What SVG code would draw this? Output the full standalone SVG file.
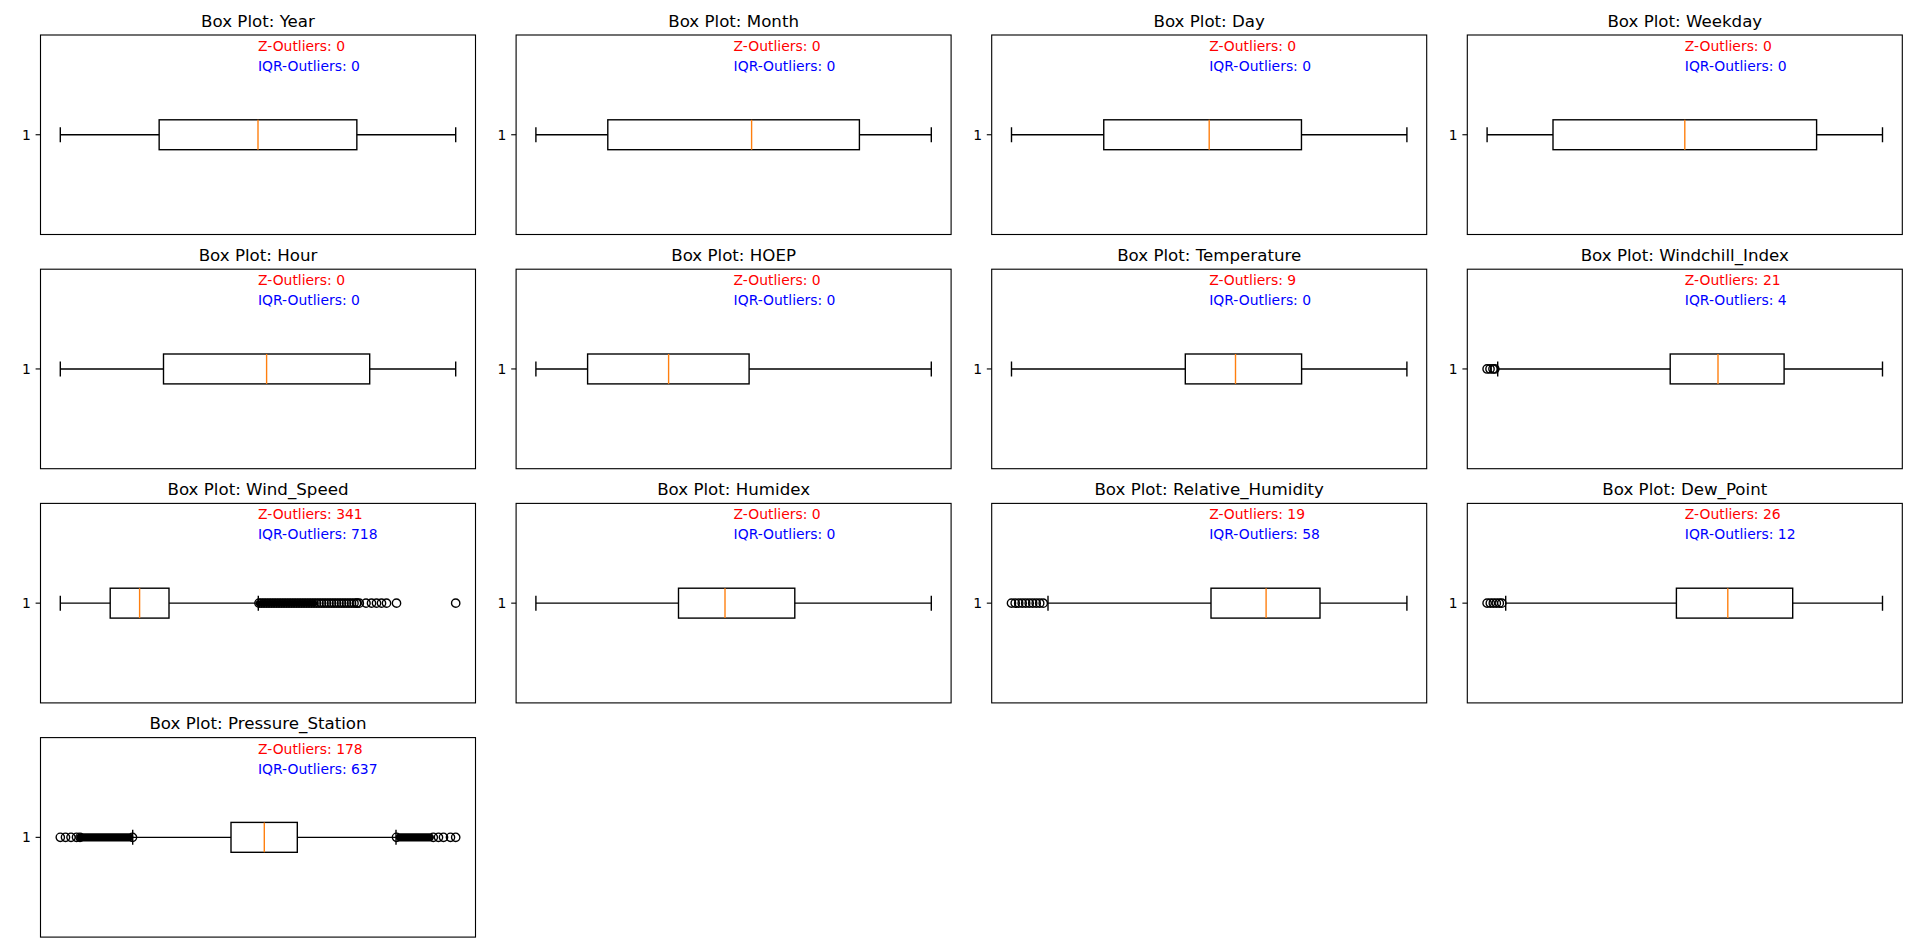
<svg xmlns="http://www.w3.org/2000/svg" xmlns:xlink="http://www.w3.org/1999/xlink" width="1920" height="951" viewBox="0 0 1920 951">
<style>
text{font-family:"DejaVu Sans","Liberation Sans",sans-serif}
.ax{fill:none;stroke:#000;stroke-width:1.11}
.bx{fill:none;stroke:#000;stroke-width:1.39}
.md{stroke:#ff7f0e;stroke-width:1.39}
.fl{fill:none;stroke:#000;stroke-width:1.39}
.dn{fill:#000;stroke:#000;stroke-width:1.39}
.t{font-size:16.67px;text-anchor:middle;fill:#000}
.tk{font-size:13.9px;text-anchor:end;fill:#000}
.z{font-size:13.9px;fill:#ff0000}
.q{font-size:13.9px;fill:#0000ff}
</style>
<defs>
<g id="frame">
<rect class="ax" x="0" y="0" width="435" height="199.5"/>
<line class="ax" x1="-4.9" y1="99.75" x2="0" y2="99.75"/>
<text class="tk" x="-9.7" y="104.8">1</text>
</g>
<circle id="o" class="fl" cx="0" cy="99.75" r="4.17"/>
<g id="o5"><use xlink:href="#o"/><use xlink:href="#o" x="2.5"/><use xlink:href="#o" x="5"/><use xlink:href="#o" x="7.5"/><use xlink:href="#o" x="10"/></g>
</defs>
<rect width="1920" height="951" fill="#fff"/>

<g id="p-year" transform="translate(40.5,35)">
<use xlink:href="#frame"/>
<text class="t" x="217.5" y="-8.3">Box Plot: Year</text>
<text class="z" x="217.5" y="16">Z-Outliers: 0</text>
<text class="q" x="217.5" y="36">IQR-Outliers: 0</text>
<path class="bx" d="M19.8 99.75H118.65M316.35 99.75H415.2M19.8 92.25V107.25M415.2 92.25V107.25"/>
<rect class="bx" x="118.65" y="84.8" width="197.7" height="29.9"/>
<line class="md" x1="217.5" y1="84.8" x2="217.5" y2="114.7"/>
</g>

<g id="p-month" transform="translate(516.1,35)">
<use xlink:href="#frame"/>
<text class="t" x="217.5" y="-8.3">Box Plot: Month</text>
<text class="z" x="217.5" y="16">Z-Outliers: 0</text>
<text class="q" x="217.5" y="36">IQR-Outliers: 0</text>
<path class="bx" d="M19.8 99.75H91.7M343.3 99.75H415.2M19.8 92.25V107.25M415.2 92.25V107.25"/>
<rect class="bx" x="91.7" y="84.8" width="251.6" height="29.9"/>
<line class="md" x1="235.5" y1="84.8" x2="235.5" y2="114.7"/>
</g>

<g id="p-day" transform="translate(991.7,35)">
<use xlink:href="#frame"/>
<text class="t" x="217.5" y="-8.3">Box Plot: Day</text>
<text class="z" x="217.5" y="16">Z-Outliers: 0</text>
<text class="q" x="217.5" y="36">IQR-Outliers: 0</text>
<path class="bx" d="M19.8 99.75H112.06M309.76 99.75H415.2M19.8 92.25V107.25M415.2 92.25V107.25"/>
<rect class="bx" x="112.06" y="84.8" width="197.7" height="29.9"/>
<line class="md" x1="217.5" y1="84.8" x2="217.5" y2="114.7"/>
</g>

<g id="p-weekday" transform="translate(1467.3,35)">
<use xlink:href="#frame"/>
<text class="t" x="217.5" y="-8.3">Box Plot: Weekday</text>
<text class="z" x="217.5" y="16">Z-Outliers: 0</text>
<text class="q" x="217.5" y="36">IQR-Outliers: 0</text>
<path class="bx" d="M19.8 99.75H85.7M349.3 99.75H415.2M19.8 92.25V107.25M415.2 92.25V107.25"/>
<rect class="bx" x="85.7" y="84.8" width="263.6" height="29.9"/>
<line class="md" x1="217.5" y1="84.8" x2="217.5" y2="114.7"/>
</g>

<g id="p-hour" transform="translate(40.5,269.2)">
<use xlink:href="#frame"/>
<text class="t" x="217.5" y="-8.3">Box Plot: Hour</text>
<text class="z" x="217.5" y="16">Z-Outliers: 0</text>
<text class="q" x="217.5" y="36">IQR-Outliers: 0</text>
<path class="bx" d="M19.8 99.75H123M329.2 99.75H415.2M19.8 92.25V107.25M415.2 92.25V107.25"/>
<rect class="bx" x="123" y="84.8" width="206.2" height="29.9"/>
<line class="md" x1="226.1" y1="84.8" x2="226.1" y2="114.7"/>
</g>

<g id="p-hoep" transform="translate(516.1,269.2)">
<use xlink:href="#frame"/>
<text class="t" x="217.5" y="-8.3">Box Plot: HOEP</text>
<text class="z" x="217.5" y="16">Z-Outliers: 0</text>
<text class="q" x="217.5" y="36">IQR-Outliers: 0</text>
<path class="bx" d="M19.8 99.75H71.5M233 99.75H415.2M19.8 92.25V107.25M415.2 92.25V107.25"/>
<rect class="bx" x="71.5" y="84.8" width="161.5" height="29.9"/>
<line class="md" x1="152.5" y1="84.8" x2="152.5" y2="114.7"/>
</g>

<g id="p-temperature" transform="translate(991.7,269.2)">
<use xlink:href="#frame"/>
<text class="t" x="217.5" y="-8.3">Box Plot: Temperature</text>
<text class="z" x="217.5" y="16">Z-Outliers: 9</text>
<text class="q" x="217.5" y="36">IQR-Outliers: 0</text>
<path class="bx" d="M19.8 99.75H193.6M309.9 99.75H415.2M19.8 92.25V107.25M415.2 92.25V107.25"/>
<rect class="bx" x="193.6" y="84.8" width="116.3" height="29.9"/>
<line class="md" x1="243.8" y1="84.8" x2="243.8" y2="114.7"/>
</g>

<g id="p-windchill" transform="translate(1467.3,269.2)">
<use xlink:href="#frame"/>
<text class="t" x="217.5" y="-8.3">Box Plot: Windchill_Index</text>
<text class="z" x="217.5" y="16">Z-Outliers: 21</text>
<text class="q" x="217.5" y="36">IQR-Outliers: 4</text>
<path class="bx" d="M30.4 99.75H202.9M316.8 99.75H415.2M30.4 92.25V107.25M415.2 92.25V107.25"/>
<rect class="bx" x="202.9" y="84.8" width="113.9" height="29.9"/>
<line class="md" x1="250.7" y1="84.8" x2="250.7" y2="114.7"/>
<use xlink:href="#o" x="19.8"/><use xlink:href="#o" x="22.7"/><use xlink:href="#o" x="25.7"/><use xlink:href="#o" x="27.5"/>
</g>

<g id="p-windspeed" transform="translate(40.5,503.4)">
<use xlink:href="#frame"/>
<text class="t" x="217.5" y="-8.3">Box Plot: Wind_Speed</text>
<text class="z" x="217.5" y="16">Z-Outliers: 341</text>
<text class="q" x="217.5" y="36">IQR-Outliers: 718</text>
<path class="bx" d="M19.8 99.75H69.7M128.5 99.75H217.8M19.8 92.25V107.25M217.8 92.25V107.25"/>
<rect class="bx" x="69.7" y="84.8" width="58.8" height="29.9"/>
<line class="md" x1="99.1" y1="84.8" x2="99.1" y2="114.7"/>
<rect class="dn" x="216" y="97.5" width="60" height="4.5" rx="2"/>
<use xlink:href="#o5" x="218.5"/><use xlink:href="#o5" x="231"/><use xlink:href="#o5" x="243.5"/><use xlink:href="#o5" x="256"/><use xlink:href="#o5" x="268.5"/><use xlink:href="#o5" x="281"/><use xlink:href="#o5" x="293.5"/><use xlink:href="#o5" x="306"/><use xlink:href="#o" x="316.5"/><use xlink:href="#o" x="318.8"/>
<use xlink:href="#o" x="325.5"/><use xlink:href="#o" x="331"/><use xlink:href="#o" x="336"/><use xlink:href="#o" x="341"/><use xlink:href="#o" x="346"/><use xlink:href="#o" x="356"/><use xlink:href="#o" x="415.2"/>
</g>

<g id="p-humidex" transform="translate(516.1,503.4)">
<use xlink:href="#frame"/>
<text class="t" x="217.5" y="-8.3">Box Plot: Humidex</text>
<text class="z" x="217.5" y="16">Z-Outliers: 0</text>
<text class="q" x="217.5" y="36">IQR-Outliers: 0</text>
<path class="bx" d="M19.8 99.75H162.4M278.7 99.75H415.2M19.8 92.25V107.25M415.2 92.25V107.25"/>
<rect class="bx" x="162.4" y="84.8" width="116.3" height="29.9"/>
<line class="md" x1="208.9" y1="84.8" x2="208.9" y2="114.7"/>
</g>

<g id="p-humidity" transform="translate(991.7,503.4)">
<use xlink:href="#frame"/>
<text class="t" x="217.5" y="-8.3">Box Plot: Relative_Humidity</text>
<text class="z" x="217.5" y="16">Z-Outliers: 19</text>
<text class="q" x="217.5" y="36">IQR-Outliers: 58</text>
<path class="bx" d="M56.3 99.75H219.3M328.3 99.75H415.2M56.3 92.25V107.25M415.2 92.25V107.25"/>
<rect class="bx" x="219.3" y="84.8" width="109" height="29.9"/>
<line class="md" x1="274.4" y1="84.8" x2="274.4" y2="114.7"/>
<use xlink:href="#o" x="19.8"/><use xlink:href="#o" x="23.5"/><use xlink:href="#o" x="27"/><use xlink:href="#o" x="30.5"/><use xlink:href="#o" x="34"/><use xlink:href="#o" x="37.5"/><use xlink:href="#o" x="41"/><use xlink:href="#o" x="44.5"/><use xlink:href="#o" x="48"/><use xlink:href="#o" x="51.5"/>
</g>

<g id="p-dewpoint" transform="translate(1467.3,503.4)">
<use xlink:href="#frame"/>
<text class="t" x="217.5" y="-8.3">Box Plot: Dew_Point</text>
<text class="z" x="217.5" y="16">Z-Outliers: 26</text>
<text class="q" x="217.5" y="36">IQR-Outliers: 12</text>
<path class="bx" d="M38.4 99.75H209.1M325.4 99.75H415.2M38.4 92.25V107.25M415.2 92.25V107.25"/>
<rect class="bx" x="209.1" y="84.8" width="116.3" height="29.9"/>
<line class="md" x1="260.5" y1="84.8" x2="260.5" y2="114.7"/>
<use xlink:href="#o" x="19.8"/><use xlink:href="#o" x="23"/><use xlink:href="#o" x="26"/><use xlink:href="#o" x="29"/><use xlink:href="#o" x="32"/><use xlink:href="#o" x="34.5"/>
</g>

<g id="p-pressure" transform="translate(40.5,737.6)">
<use xlink:href="#frame"/>
<text class="t" x="217.5" y="-8.3">Box Plot: Pressure_Station</text>
<text class="z" x="217.5" y="16">Z-Outliers: 178</text>
<text class="q" x="217.5" y="36">IQR-Outliers: 637</text>
<path class="bx" d="M92.2 99.75H190.5M256.8 99.75H355.5M92.2 92.25V107.25M355.5 92.25V107.25"/>
<rect class="bx" x="190.5" y="84.8" width="66.3" height="29.9"/>
<line class="md" x1="223.8" y1="84.8" x2="223.8" y2="114.7"/>
<use xlink:href="#o" x="19.8"/><use xlink:href="#o" x="25"/><use xlink:href="#o" x="30.5"/><use xlink:href="#o" x="36"/>
<rect class="dn" x="36.4" y="96.3" width="55.8" height="6.9" rx="3.45"/>
<use xlink:href="#o" x="39.5"/><use xlink:href="#o" x="92"/>
<rect class="dn" x="355.8" y="96.3" width="37" height="6.9" rx="3.45"/>
<use xlink:href="#o" x="356"/><use xlink:href="#o" x="392.8"/>
<use xlink:href="#o" x="398"/><use xlink:href="#o" x="403"/><use xlink:href="#o" x="410"/><use xlink:href="#o" x="415.2"/>
</g>
</svg>
